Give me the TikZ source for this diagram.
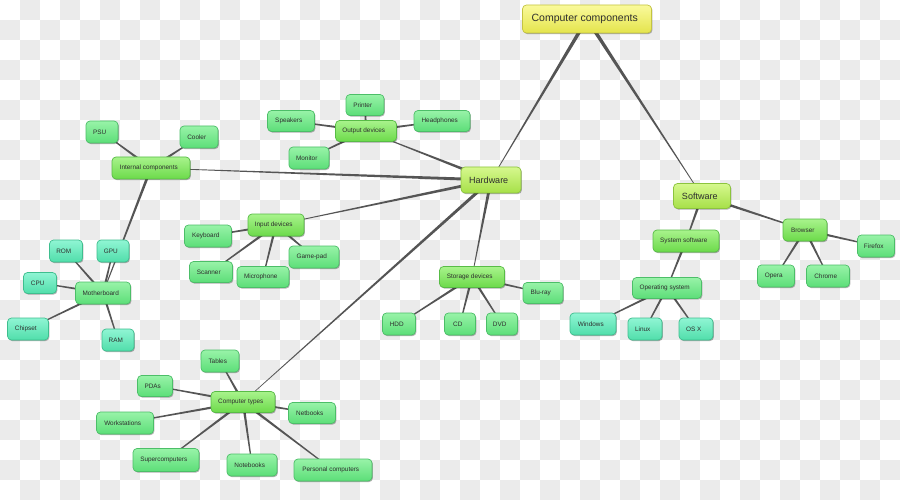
\documentclass[tikz,border=0pt]{standalone}
\usepackage{fontspec}
\setmainfont{Liberation Sans}
\usetikzlibrary{calc,shadows}
\pgfdeclarelayer{bg}
\pgfdeclarelayer{edges}
\pgfsetlayers{bg,edges,main}
\definecolor{chk}{HTML}{EBEBEB}
\definecolor{edgecol}{HTML}{555555}
\definecolor{txt}{HTML}{2E2E2E}
\definecolor{l0t}{HTML}{FAFA9C}\definecolor{l0b}{HTML}{E4E44C}\definecolor{l0d}{HTML}{C4C440}
\definecolor{l1t}{HTML}{D6F88E}\definecolor{l1b}{HTML}{A6E048}\definecolor{l1d}{HTML}{8CC43E}
\definecolor{l2t}{HTML}{A8F38C}\definecolor{l2b}{HTML}{6CDA4A}\definecolor{l2d}{HTML}{58BC46}
\definecolor{l3t}{HTML}{98F3A8}\definecolor{l3b}{HTML}{5CDE78}\definecolor{l3d}{HTML}{4CBE68}
\definecolor{l4t}{HTML}{90F5D4}\definecolor{l4b}{HTML}{50DEAA}\definecolor{l4d}{HTML}{3EBE8E}
\tikzset{
  box/.style={rounded corners=4pt, line width=0.7pt, inner sep=0pt, text=txt,
    minimum height=22pt, font=\fontsize{6.4pt}{7pt}\selectfont,
    execute at begin node={\kern-4.5pt},
    drop shadow={shadow xshift=0.9pt, shadow yshift=-1.1pt, opacity=0.3, fill=black}},
  lvl0/.style={box, draw=l0d, top color=l0t, bottom color=l0b, font=\fontsize{10.5pt}{12pt}\selectfont},
  lvl1/.style={box, draw=l1d, top color=l1t, bottom color=l1b, font=\fontsize{9pt}{11pt}\selectfont},
  lvl2/.style={box, draw=l2d, top color=l2t, bottom color=l2b},
  lvl3/.style={box, draw=l3d, top color=l3t, bottom color=l3b},
  lvl4/.style={box, draw=l4d, top color=l4t, bottom color=l4b},
}
% #1 thin end width, #2 thick end width, #3 parent, #4 child
\newcommand\taperedge[4][0.25pt]{%
  \fill[edgecol] ($(#3)!#2!90:(#4)$) -- ($(#4)!#1!-90:(#3)$) -- ($(#4)!#1!90:(#3)$) -- ($(#3)!#2!-90:(#4)$) -- cycle;}
\begin{document}
\begin{tikzpicture}[x=1pt,y=-1pt]
\begin{pgfonlayer}{bg}
  \fill[white] (0,0) rectangle (900,500);
  \foreach \i in {0,...,44} {
    \foreach \j in {0,...,24} {
      \pgfmathtruncatemacro\chkpar{mod(\i+\j,2)}
      \ifnum\chkpar=1 \fill[chk] (\i*20,\j*20) rectangle ++(20,20); \fi
    }
  }
\end{pgfonlayer}
\useasboundingbox (0,0) rectangle (900,500);

% root and level 1
\node[lvl0, minimum width=129pt, minimum height=28pt] (root) at (587,19) {Computer components};
\node[lvl1, minimum width=60pt, minimum height=26pt] (hw) at (491,180) {Hardware};
\node[lvl1, minimum width=57pt, minimum height=25pt] (sw) at (702,196) {Software};

% output devices
\node[lvl2, minimum width=61pt, minimum height=21pt] (out) at (366,131) {Output devices};
\node[lvl3, minimum width=38pt, minimum height=21pt] (printer) at (365,105) {Printer};
\node[lvl3, minimum width=47pt, minimum height=21pt] (speakers) at (291,121) {Speakers};
\node[lvl3, minimum width=56pt, minimum height=21pt] (headphones) at (442,121) {Headphones};
\node[lvl3, minimum width=40pt] (monitor) at (309,158) {Monitor};

% input devices
\node[lvl2, minimum width=56pt] (inp) at (276,225) {Input devices};
\node[lvl3, minimum width=47pt] (keyboard) at (208,236) {Keyboard};
\node[lvl3, minimum width=50pt] (gamepad) at (314,257) {Game-pad};
\node[lvl3, minimum width=43pt, minimum height=21pt] (scanner) at (211,272) {Scanner};
\node[lvl3, minimum width=52pt, minimum height=21pt] (micro) at (263,277) {Microphone};

% internal components
\node[lvl2, minimum width=78pt] (intc) at (151,168) {Internal components};
\node[lvl3, minimum width=32pt] (psu) at (102,132) {PSU};
\node[lvl3, minimum width=38pt] (cooler) at (199,137) {Cooler};
\node[lvl3, minimum width=55pt] (mobo) at (103,293) {Motherboard};
\node[lvl4, minimum width=32pt] (gpu) at (113,251) {GPU};
\node[lvl4, minimum width=33pt] (rom) at (66,251) {ROM};
\node[lvl4, minimum width=33pt, minimum height=21pt] (cpu) at (40,283) {CPU};
\node[lvl4, minimum width=41pt] (chipset) at (28,329) {Chipset};
\node[lvl4, minimum width=32pt] (ram) at (118,340) {RAM};

% storage devices
\node[lvl2, minimum width=65pt, minimum height=21pt] (stor) at (472,277) {Storage devices};
\node[lvl3, minimum width=40pt, minimum height=21pt] (bluray) at (543,293) {Blu-ray};
\node[lvl3, minimum width=33pt] (hdd) at (399,324) {HDD};
\node[lvl3, minimum width=31pt] (cd) at (460,324) {CD};
\node[lvl3, minimum width=31pt] (dvd) at (502,324) {DVD};

% software
\node[lvl2, minimum width=66pt] (syss) at (686,241) {System software};
\node[lvl2, minimum width=44pt] (browser) at (805,230) {Browser};
\node[lvl3, minimum width=37pt] (firefox) at (876,246) {Firefox};
\node[lvl3, minimum width=37pt] (opera) at (776,276) {Opera};
\node[lvl3, minimum width=43pt] (chrome) at (828,276) {Chrome};
\node[lvl3, minimum width=69pt, minimum height=21pt] (os) at (667,288) {Operating system};
\node[lvl4, minimum width=46pt] (windows) at (593,324) {Windows};
\node[lvl4, minimum width=34pt] (linux) at (645,329) {Linux};
\node[lvl4, minimum width=34pt] (osx) at (696,329) {OS X};

% computer types
\node[lvl2, minimum width=64pt, minimum height=21pt] (ctypes) at (243,402) {Computer types};
\node[lvl3, minimum width=38pt] (tables) at (220,361) {Tables};
\node[lvl3, minimum width=35pt, minimum height=21pt] (pdas) at (155,386) {PDAs};
\node[lvl3, minimum width=47pt, minimum height=21pt] (netbooks) at (312,413) {Netbooks};
\node[lvl3, minimum width=57pt] (workst) at (125,423) {Workstations};
\node[lvl3, minimum width=66pt, minimum height=23pt] (superc) at (166,460) {Supercomputers};
\node[lvl3, minimum width=50pt] (notebooks) at (252,465) {Notebooks};
\node[lvl3, minimum width=78pt] (personal) at (333,470) {Personal computers};

\begin{pgfonlayer}{edges}
  \taperedge{1.9pt}{root}{hw}
  \taperedge{1.9pt}{root}{sw}
  \foreach \c in {out,inp,intc,stor,ctypes} {\taperedge{1.6pt}{hw}{\c}}
  \foreach \c in {printer,speakers,headphones,monitor} {\taperedge[0.5pt]{1.3pt}{out}{\c}}
  \foreach \c in {keyboard,gamepad,scanner,micro} {\taperedge[0.5pt]{1.3pt}{inp}{\c}}
  \foreach \c in {psu,cooler,mobo} {\taperedge[0.4pt]{1.4pt}{intc}{\c}}
  \foreach \c in {gpu,rom,cpu,chipset,ram} {\taperedge[0.5pt]{1.2pt}{mobo}{\c}}
  \foreach \c in {bluray,hdd,cd,dvd} {\taperedge[0.5pt]{1.3pt}{stor}{\c}}
  \foreach \c in {syss,browser} {\taperedge[0.5pt]{1.5pt}{sw}{\c}}
  \taperedge[0.5pt]{1.3pt}{syss}{os}
  \foreach \c in {windows,linux,osx} {\taperedge[0.5pt]{1.2pt}{os}{\c}}
  \foreach \c in {firefox,opera,chrome} {\taperedge[0.5pt]{1.3pt}{browser}{\c}}
  \foreach \c in {tables,pdas,netbooks,workst,superc,notebooks,personal} {\taperedge[0.5pt]{1.3pt}{ctypes}{\c}}
\end{pgfonlayer}
\end{tikzpicture}
\end{document}
